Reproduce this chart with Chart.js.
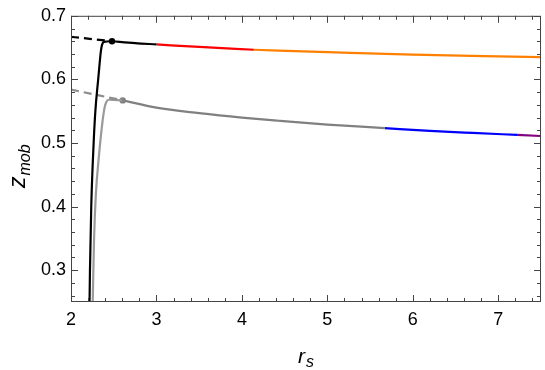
<!DOCTYPE html>
<html>
<head>
<meta charset="utf-8">
<script src="https://cdn.jsdelivr.net/npm/chart.js@4.4.1/dist/chart.umd.min.js"></script>
<style>
  html, body { margin: 0; padding: 0; background: #fff; }
  #wrap { width: 545px; height: 370px; }
</style>
</head>
<body>
<div id="wrap"><canvas id="zChart" width="545" height="370"></canvas></div>
<script>
// tick labels
const xTicks = [2, 3, 4, 5, 6, 7];
const yTicks = [0.3, 0.4, 0.5, 0.6, 0.7];

// upper branch (black / red / orange)
const blackDashX = [2.0, 2.48];
const blackDashY = [0.667, 0.660];
const blackRiseX = [2.217, 2.222, 2.237, 2.265, 2.285, 2.318, 2.335, 2.35, 2.365, 2.385, 2.48];
const blackRiseY = [0.25, 0.30, 0.40, 0.50, 0.55, 0.60, 0.625, 0.645, 0.655, 0.659, 0.660];
const blackFlatX = [2.48, 2.75, 3.0];
const blackFlatY = [0.660, 0.657, 0.655];
const redX = [3.0, 3.5, 4.14];
const redY = [0.655, 0.651, 0.6466];
const orangeX = [4.14, 5.0, 6.0, 7.0, 7.5];
const orangeY = [0.6466, 0.643, 0.639, 0.6362, 0.635];

// lower branch (gray / blue / purple)
const grayDashX = [2.0, 2.605];
const grayDashY = [0.584, 0.567];
const grayRiseX = [2.254, 2.27, 2.29, 2.33, 2.37, 2.395, 2.415, 2.44, 2.605];
const grayRiseY = [0.25, 0.35, 0.417, 0.484, 0.535, 0.557, 0.565, 0.568, 0.567];
const grayFlatX = [2.605, 3.0, 3.5, 4.0, 4.43, 5.0, 5.67];
const grayFlatY = [0.567, 0.5555, 0.547, 0.540, 0.535, 0.529, 0.5235];
const blueX = [5.67, 6.2, 6.7, 7.22];
const blueY = [0.5235, 0.519, 0.5158, 0.5128];
const purpleX = [7.22, 7.5];
const purpleY = [0.5128, 0.511];

// marked points
const dotX = [2.48, 2.605];
const dotY = [0.660, 0.567];
const dotColors = ["#000000", "#808080"];

function pts(xs, ys) {
  return xs.map((x, i) => ({ x: x, y: ys[i] }));
}

function line(xs, ys, color, dash) {
  return {
    data: pts(xs, ys),
    showLine: true,
    borderColor: color,
    borderWidth: 2.2,
    borderDash: dash || [],
    pointRadius: 0,
    cubicInterpolationMode: "monotone",
    fill: false,
  };
}

// frame + inward ticks on all four sides, axis titles with subscripts
const framePlugin = {
  id: "frame",
  afterDraw(chart) {
    const ctx = chart.ctx;
    const a = chart.chartArea;
    const xs = chart.scales.x;
    const ys = chart.scales.y;
    ctx.save();
    ctx.strokeStyle = "#444";
    ctx.lineWidth = 1;
    ctx.strokeRect(a.left + 0.5, a.top + 0.5, a.right - a.left - 1, a.bottom - a.top - 1);

    ctx.beginPath();
    for (let v = 2; v <= 7.5001; v += 0.2) {
      const major = Math.abs(v - Math.round(v)) < 1e-6;
      const len = major ? 7 : 4;
      const px = Math.round(xs.getPixelForValue(v)) + 0.5;
      ctx.moveTo(px, a.bottom);
      ctx.lineTo(px, a.bottom - len);
      ctx.moveTo(px, a.top);
      ctx.lineTo(px, a.top + len);
    }
    for (let v = 0.26; v <= 0.7001; v += 0.02) {
      const major = Math.abs(v * 10 - Math.round(v * 10)) < 1e-6;
      const len = major ? 7 : 4;
      const py = Math.round(ys.getPixelForValue(v)) + 0.5;
      ctx.moveTo(a.left, py);
      ctx.lineTo(a.left + len, py);
      ctx.moveTo(a.right, py);
      ctx.lineTo(a.right - len, py);
    }
    ctx.stroke();

    // x title: r_s
    ctx.fillStyle = "#000";
    ctx.textBaseline = "alphabetic";
    ctx.font = "italic 21px 'Liberation Sans', Arial, sans-serif";
    ctx.fillText("r", 298, 363);
    ctx.font = "italic 16px 'Liberation Sans', Arial, sans-serif";
    ctx.fillText("s", 306, 367);

    // y title: z_mob (rotated)
    ctx.translate(25, 188);
    ctx.rotate(-Math.PI / 2);
    ctx.font = "italic 23px 'Liberation Sans', Arial, sans-serif";
    ctx.fillText("z", 0, 0);
    const zw = ctx.measureText("z").width;
    ctx.font = "italic 16px 'Liberation Sans', Arial, sans-serif";
    ctx.fillText("mob", zw + 1, 5);
    ctx.restore();
  },
};

const tickFont = { family: "'Liberation Sans', Arial, sans-serif", size: 18 };

new Chart(document.getElementById("zChart").getContext("2d"), {
  type: "scatter",
  data: {
    datasets: [
      line(blackDashX, blackDashY, "#000000", [8, 5]),
      line(blackRiseX, blackRiseY, "#000000"),
      line(blackFlatX, blackFlatY, "#000000"),
      line(redX, redY, "#ff0000"),
      line(orangeX, orangeY, "#ff8000"),
      line(grayDashX, grayDashY, "#8c8c8c", [8, 5]),
      line(grayRiseX, grayRiseY, "#9a9a9a"),
      line(grayFlatX, grayFlatY, "#808080"),
      line(blueX, blueY, "#0000ff"),
      line(purpleX, purpleY, "#800080"),
      {
        data: pts(dotX, dotY),
        showLine: false,
        pointRadius: 3.2,
        pointBackgroundColor: dotColors,
        pointBorderWidth: 0,
      },
    ],
  },
  options: {
    responsive: false,
    animation: false,
    devicePixelRatio: 1,
    layout: { padding: { top: 11, right: 1, left: 0, bottom: 0 } },
    plugins: {
      legend: { display: false },
      tooltip: { enabled: false },
    },
    scales: {
      x: {
        type: "linear",
        min: 2,
        max: 7.5,
        grid: { display: false, drawTicks: false },
        border: { display: false },
        afterBuildTicks: (s) => { s.ticks = xTicks.map((v) => ({ value: v })); },
        afterFit: (s) => { s.height = 68; },
        ticks: {
          color: "#000",
          font: tickFont,
          padding: 7,
          maxRotation: 0,
          callback: (v) => String(v),
        },
      },
      y: {
        type: "linear",
        min: 0.25,
        max: 0.7,
        grid: { display: false, drawTicks: false },
        border: { display: false },
        afterBuildTicks: (s) => { s.ticks = yTicks.map((v) => ({ value: v })); },
        afterFit: (s) => { s.width = 71; },
        ticks: {
          color: "#000",
          font: tickFont,
          padding: 5,
          callback: (v) => v.toFixed(1),
        },
      },
    },
  },
  plugins: [framePlugin],
});
</script>
</body>
</html>
